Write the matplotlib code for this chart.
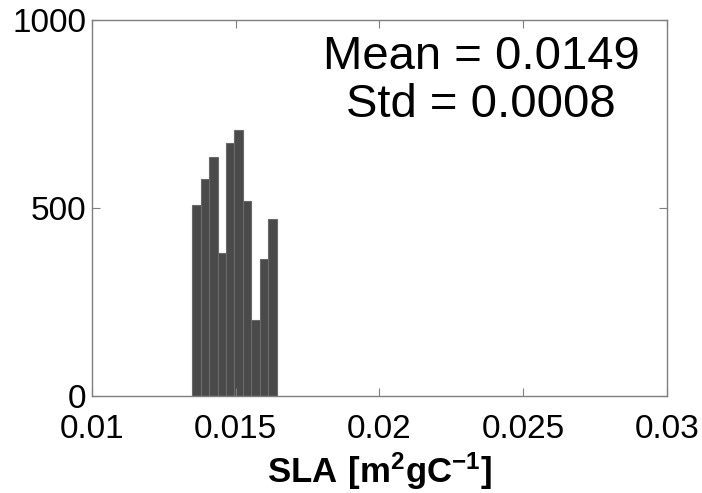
import matplotlib

matplotlib.use("Agg")
import matplotlib.pyplot as plt  # noqa: E402

# histogram (10 bins)
bin_centers = [0.013636, 0.013929, 0.014223, 0.014516, 0.014810,
               0.015103, 0.015397, 0.015690, 0.015984, 0.016277]
counts = [508, 576, 637, 381, 673, 707, 519, 202, 364, 471]
bin_width = 0.0002935

x_ticks = [0.01, 0.015, 0.02, 0.025, 0.03]
x_ticklabels = ["0.01", "0.015", "0.02", "0.025", "0.03"]
y_ticks = [0, 500, 1000]
stats_text = "Mean = 0.0149\nStd = 0.0008"

plt.rcParams["font.family"] = ["Liberation Sans", "DejaVu Sans"]
plt.rcParams["mathtext.fontset"] = "custom"
plt.rcParams["mathtext.rm"] = "Liberation Sans"
plt.rcParams["mathtext.bf"] = "Liberation Sans:bold"

fig = plt.figure(figsize=(7.02, 4.93), dpi=100)
ax = fig.add_axes([0.131, 0.197, 0.819, 0.762])

ax.bar(bin_centers, counts, width=bin_width, color="#4a4a4a",
       edgecolor="#6a6a6a", linewidth=0.8)

ax.set_xlim(0.01, 0.03)
ax.set_ylim(0, 1000)
ax.set_xticks(x_ticks)
ax.set_xticklabels(x_ticklabels)
ax.set_yticks(y_ticks)
ax.tick_params(direction="in", top=True, right=True, labelsize=24,
               length=6, color="#7f7f7f")
ax.tick_params(axis="x", pad=13)
ax.tick_params(axis="y", pad=4)
for sp in ax.spines.values():
    sp.set_color("#7f7f7f")
    sp.set_linewidth(1)

ax.set_xlabel(r"$\mathbf{SLA\ [m^2gC^{-1}]}$", fontsize=25, labelpad=4)
ax.text(0.677, 0.837, stats_text, transform=ax.transAxes, ha="center",
        va="center", fontsize=34, linespacing=1.12)

fig.savefig("out.png", dpi=100)
